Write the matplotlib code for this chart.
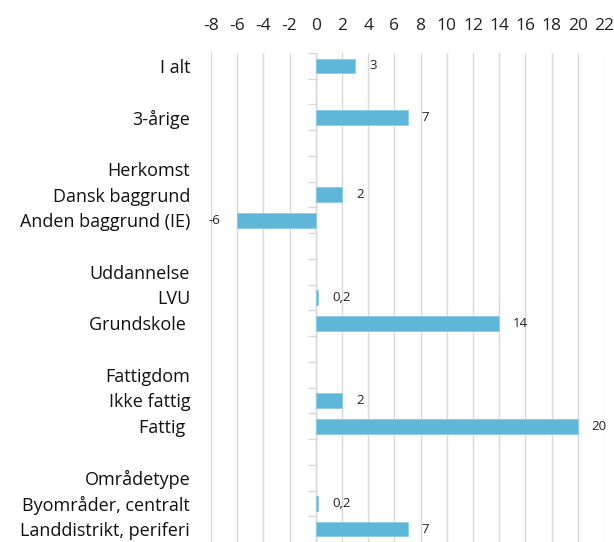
import matplotlib
import matplotlib.pyplot as plt

matplotlib.rcParams["font.family"] = ["Open Sans", "DejaVu Sans"]

# Rows from top to bottom; "" marks an empty spacer row, headers have no value
row_labels = [
    "I alt", "", "3-årige", "",
    "Herkomst", "Dansk baggrund", "Anden baggrund (IE)", "",
    "Uddannelse", "LVU", "Grundskole ", "",
    "Fattigdom", "Ikke fattig", "Fattig ", "",
    "Områdetype", "Byområder, centralt", "Landdistrikt, periferi",
]
row_values = [
    3, None, 7, None,
    None, 2, -6, None,
    None, 0.2, 14, None,
    None, 2, 20, None,
    None, 0.2, 7,
]
value_texts = [
    "3", "", "7", "",
    "", "2", "-6", "",
    "", "0,2", "14", "",
    "", "2", "20", "",
    "", "0,2", "7",
]
x_ticks = list(range(-8, 23, 2))

BAR_COLOR = "#5EB6D9"
GRID_COLOR = "#D9D9D9"

fig = plt.figure(figsize=(6.14, 5.42), dpi=100)
ax = fig.add_axes([211 / 614, 0.0, (604 - 211) / 614, 1 - 53 / 542])

ypos = list(range(len(row_labels)))
for y, v, txt in zip(ypos, row_values, value_texts):
    if v is None:
        continue
    ax.barh(y, v, height=0.57, color=BAR_COLOR, edgecolor="#8CCDE6", linewidth=0.6, zorder=3)
    if v >= 0:
        ax.annotate(txt, (v, y), xytext=(10, 0), textcoords="offset points",
                    ha="left", va="center", fontsize=9.5, color="#222222")
    else:
        ax.annotate(txt, (v, y), xytext=(-12, 0), textcoords="offset points",
                    ha="right", va="center", fontsize=9.5, color="#222222")

ax.set_xlim(-8, 22)
ax.set_ylim(len(row_labels) - 0.5, -0.5)
ax.set_xticks(x_ticks)
ax.set_xticklabels([str(t) for t in x_ticks], fontsize=12.5, color="#222222")
ax.xaxis.tick_top()
ax.tick_params(axis="x", length=0, pad=14)

ax.set_yticks(ypos)
ax.set_yticklabels(row_labels, fontsize=13, color="#111111")
ax.tick_params(axis="y", length=0, pad=15)

# small ticks at row boundaries along the zero line
for b in range(len(row_labels) + 1):
    ax.plot([-0.55, 0], [b - 0.5, b - 0.5], color=GRID_COLOR, linewidth=1, zorder=2, clip_on=False)

ax.grid(axis="x", color=GRID_COLOR, linewidth=1, zorder=0)
ax.axvline(0, color=GRID_COLOR, linewidth=1, zorder=2)
for s in ax.spines.values():
    s.set_visible(False)

fig.savefig("out.png", dpi=100)
